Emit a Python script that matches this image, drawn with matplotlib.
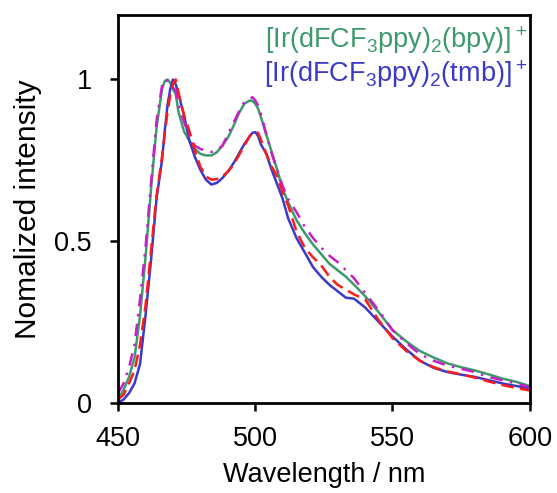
import numpy as np
import matplotlib
matplotlib.use("Agg")
import matplotlib.pyplot as plt

plt.rcParams['font.family'] = ['Liberation Sans', 'DejaVu Sans']

# Wavelength grid (nm)
wl = [450, 452, 454, 456, 458, 460, 462, 464, 466, 467, 468, 469, 470, 471, 472,
      474, 476, 478, 480, 482, 484, 486, 488, 490, 492, 494, 496, 498, 499, 500,
      501, 502, 504, 506, 508, 510, 512, 515, 518, 521, 524, 527, 530, 533, 536,
      540, 545, 550, 555, 560, 565, 570, 575, 580, 585, 590, 595, 600]

# [Ir(dFCF3ppy)2(bpy)]+  (green, solid)
bpy = [0.01, 0.04, 0.08, 0.14, 0.27, 0.45, 0.66, 0.85, 0.97, 0.995, 1.0, 0.99, 0.97, 0.955, 0.90,
       0.84, 0.81, 0.785, 0.77, 0.765, 0.765, 0.775, 0.795, 0.82, 0.855, 0.895, 0.925, 0.935, 0.933, 0.925,
       0.91, 0.885, 0.83, 0.775, 0.72, 0.66, 0.62, 0.565, 0.525, 0.49, 0.46, 0.43, 0.41, 0.39, 0.365,
       0.33, 0.28, 0.225, 0.19, 0.16, 0.14, 0.122, 0.11, 0.10, 0.088, 0.075, 0.065, 0.052]

# second bpy trace (magenta, dash-dot)
bpy_2 = [0.03, 0.06, 0.11, 0.18, 0.32, 0.48, 0.68, 0.87, 0.98, 1.0, 0.995, 0.985, 0.975, 0.965, 0.92,
         0.87, 0.82, 0.795, 0.785, 0.78, 0.776, 0.782, 0.795, 0.83, 0.865, 0.90, 0.93, 0.94, 0.945, 0.935,
         0.92, 0.895, 0.83, 0.77, 0.72, 0.67, 0.63, 0.59, 0.545, 0.51, 0.48, 0.455, 0.435, 0.41, 0.385,
         0.34, 0.285, 0.225, 0.185, 0.15, 0.13, 0.115, 0.105, 0.095, 0.08, 0.07, 0.06, 0.048]

# [Ir(dFCF3ppy)2(tmb)]+  (blue, solid)
tmb = [0.0, 0.01, 0.03, 0.06, 0.12, 0.27, 0.44, 0.63, 0.75, 0.84, 0.92, 0.97, 1.0, 0.985, 0.955,
       0.89, 0.81, 0.76, 0.72, 0.69, 0.675, 0.68, 0.695, 0.715, 0.74, 0.77, 0.80, 0.825, 0.835, 0.837,
       0.825, 0.80, 0.77, 0.72, 0.675, 0.63, 0.57, 0.51, 0.465, 0.42, 0.39, 0.365, 0.345, 0.325, 0.322,
       0.295, 0.25, 0.205, 0.165, 0.13, 0.108, 0.095, 0.087, 0.08, 0.07, 0.06, 0.052, 0.045]

# second tmb trace (red, dashed)
tmb_2 = [0.01, 0.025, 0.06, 0.10, 0.18, 0.30, 0.47, 0.64, 0.76, 0.83, 0.90, 0.95, 0.985, 1.0, 0.96,
         0.89, 0.84, 0.78, 0.73, 0.70, 0.69, 0.692, 0.70, 0.715, 0.735, 0.765, 0.795, 0.825, 0.835, 0.838,
         0.835, 0.815, 0.77, 0.73, 0.70, 0.65, 0.61, 0.53, 0.48, 0.45, 0.425, 0.39, 0.365, 0.35, 0.335,
         0.32, 0.255, 0.20, 0.16, 0.13, 0.11, 0.097, 0.088, 0.078, 0.066, 0.055, 0.046, 0.038]

GREEN = "#3d9a6c"
BLUE = "#3a3ac8"
FS = 19.5

fig = plt.figure(figsize=(5.57, 4.93), dpi=100)
ax = fig.add_axes([0.212, 0.183, 0.739, 0.787])

ax.plot(wl, bpy, color=GREEN, lw=1.8)
ax.plot(wl, tmb, color=BLUE, lw=1.8)
ax.plot(wl, bpy_2, color="#c81ec8", lw=1.8, dashes=(5, 3, 1, 3))
ax.plot(wl, tmb_2, color="#ff1a1a", lw=1.8, dashes=(5, 2.5))

ax.set_xlim(450, 600)
ax.set_ylim(0, 1.2)
ax.set_xticks([450, 500, 550, 600])
ax.set_yticks([0, 0.5, 1])
ax.set_yticklabels(["0", "0.5", "1"])
ax.tick_params(direction="out", length=6, width=1.8, labelsize=FS)
ax.tick_params(axis="x", pad=11)
ax.tick_params(axis="y", pad=13)
for s in ax.spines.values():
    s.set_linewidth(2)

ax.set_xlabel("Wavelength / nm", fontsize=FS)
ax.set_ylabel("Nomalized intensity", fontsize=21.5)
ax.xaxis.set_label_coords(0.5, -0.153)
ax.yaxis.set_label_coords(-0.185, 0.5)

ax.text(0.995, 0.915, r"[Ir(dFCF$\mathregular{_3}$ppy)$\mathregular{_2}$(bpy)]$\mathregular{^+}$",
        color=GREEN, fontsize=FS, ha="right", va="baseline", transform=ax.transAxes)
ax.text(0.995, 0.828, r"[Ir(dFCF$\mathregular{_3}$ppy)$\mathregular{_2}$(tmb)]$\mathregular{^+}$",
        color=BLUE, fontsize=FS, ha="right", va="baseline", transform=ax.transAxes)

fig.savefig("out.png", dpi=100)
